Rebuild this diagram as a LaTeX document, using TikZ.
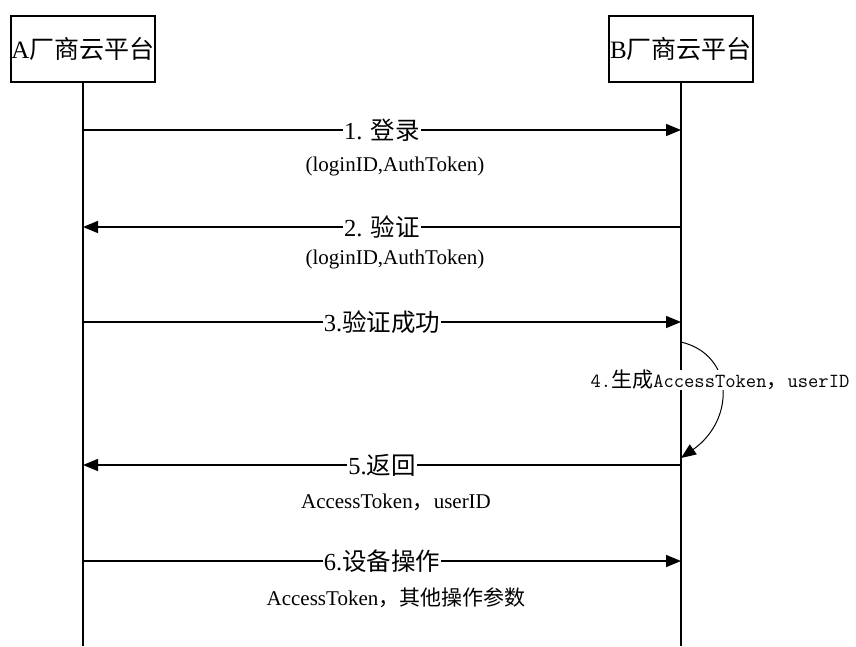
\documentclass[tikz,border=0pt]{standalone}
\usepackage{fontspec}
\setmainfont{Liberation Serif}
\newfontfamily\cjk{Noto Sans CJK SC}
\newfontfamily\monof{Latin Modern Mono}
\usetikzlibrary{arrows.meta}
\tikzset{
  actor/.style={draw, line width=1.5pt, minimum width=144pt, minimum height=66pt, inner sep=0pt, fill=white,
    font=\fontsize{25}{29}\selectfont},
  life/.style={line width=1.5pt},
  msg/.style={line width=1.5pt, -{Triangle[length=15pt,width=12pt]}},
  lbl/.style={fill=white, inner sep=1pt, font=\fontsize{24.5}{28}\selectfont},
  sub/.style={inner sep=0pt, font=\fontsize{21}{25}\selectfont},
  selfmsg/.style={line width=1pt, -{Triangle[length=15pt,width=12pt]}}
}
\begin{document}
\begin{tikzpicture}[x=1pt,y=-1pt]
\useasboundingbox (0,0) rectangle (856,646);
\fill[white] (0,0) rectangle (856,646);
% actors
\node[actor] (A) at (83,49) {A{\cjk 厂商云平台}};
\node[actor] (B) at (681,49) {B{\cjk 厂商云平台}};
\coordinate (Aend) at (83,646);
\coordinate (Bend) at (681,646);
\draw[life] (A.south) -- (Aend);
\draw[life] (B.south) -- (Bend);
% lifeline points
\coordinate (a1) at (83,130);  \coordinate (b1) at (681,130);
\coordinate (a2) at (83,227);  \coordinate (b2) at (681,227);
\coordinate (a3) at (83,322);  \coordinate (b3) at (681,322);
\coordinate (b4s) at (681,342); \coordinate (b4e) at (681,458);
\coordinate (a5) at (83,465);  \coordinate (b5) at (681,465);
\coordinate (a6) at (83,561);  \coordinate (b6) at (681,561);
% messages
\draw[msg] (a1) -- node[lbl] {1. {\cjk 登录}} (b1);
\node[sub] (s1) at (395,166) {(loginID,AuthToken)};
\draw[msg] (b2) -- node[lbl] {2. {\cjk 验证}} (a2);
\node[sub] (s2) at (395,259) {(loginID,AuthToken)};
\draw[msg] (a3) -- node[lbl] {3.{\cjk 验证成功}} (b3);
\draw[selfmsg] (b4s) .. controls (735,355) and (735,420) .. (b4e);
\node[lbl, inner sep=0pt, font=\fontsize{21}{25}\selectfont] (l4) at (720,380)
  {{\monof\fontsize{20}{24}\selectfont 4.}{\cjk 生成}{\monof\fontsize{20}{24}\selectfont AccessToken}{\cjk ，}{\monof\fontsize{20}{24}\selectfont userID}};
\draw[msg] (b5) -- node[lbl] {5.{\cjk 返回}} (a5);
\node[sub] (s5) at (396,502) {AccessToken{\cjk ，}userID};
\draw[msg] (a6) -- node[lbl] {6.{\cjk 设备操作}} (b6);
\node[sub] (s6) at (396,598) {AccessToken{\cjk ，其他操作参数}};
\end{tikzpicture}
\end{document}
